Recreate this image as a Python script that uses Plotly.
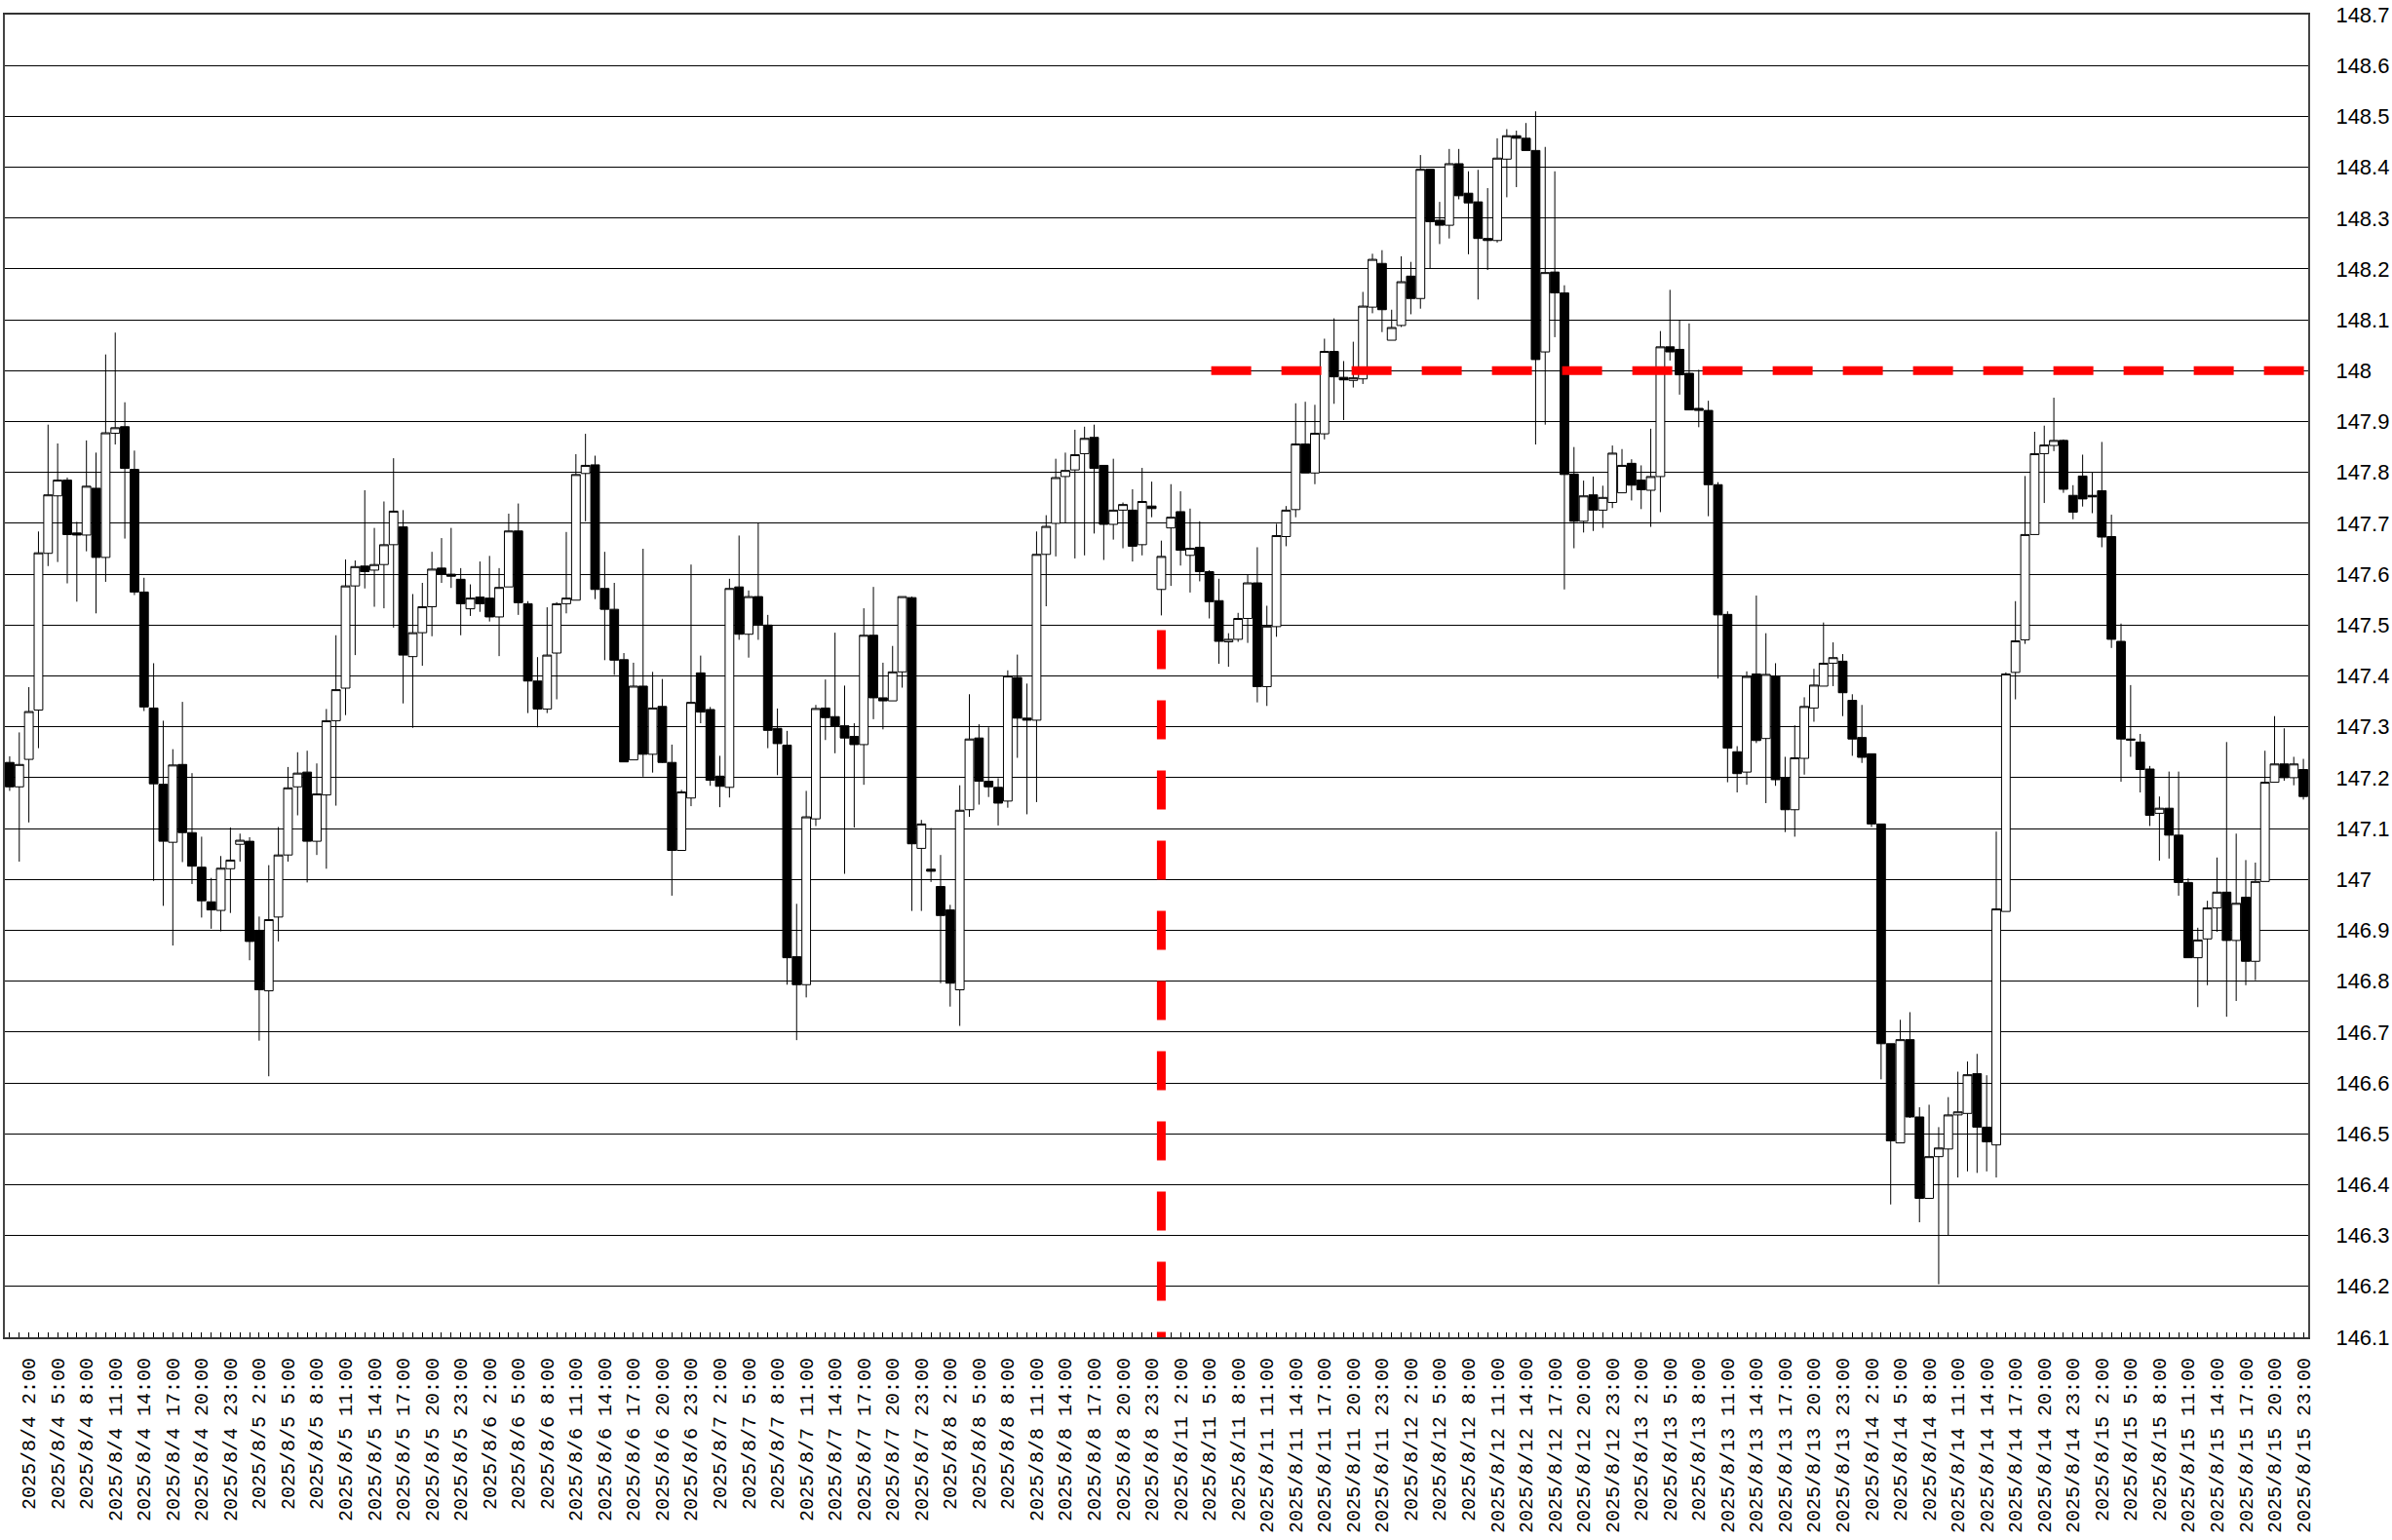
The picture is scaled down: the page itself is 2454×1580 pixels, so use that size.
import plotly.graph_objects as go

days = ["2025/8/4", "2025/8/5", "2025/8/6", "2025/8/7", "2025/8/8",
        "2025/8/11", "2025/8/12", "2025/8/13", "2025/8/14", "2025/8/15"]
hours = list(range(24))
times = [f"{d} {h}:00" for d in days for h in hours]

open_ = [
147.230,147.182,147.236,147.333,147.641,147.754,147.785,147.681,147.677,147.769,147.633,147.877,
147.890,147.806,147.565,147.337,147.187,147.073,147.226,147.092,147.024,146.956,146.939,147.021,
147.069,147.075,146.900,146.781,146.926,147.048,147.182,147.211,147.075,147.166,147.312,147.376,
147.577,147.616,147.608,147.619,147.658,147.693,147.438,147.485,147.536,147.612,147.600,147.590,
147.532,147.555,147.553,147.516,147.575,147.685,147.542,147.390,147.335,147.445,147.542,147.549,
147.798,147.815,147.572,147.531,147.432,147.235,147.380,147.246,147.340,147.230,147.057,147.160,
147.406,147.334,147.203,147.181,147.575,147.482,147.556,147.500,147.297,147.264,146.848,146.793,
147.119,147.337,147.320,147.302,147.281,147.265,147.480,147.357,147.351,147.408,147.554,147.061,
147.020,146.986,146.940,146.783,147.137,147.278,147.193,147.181,147.154,147.397,147.317,147.313,
147.639,147.700,147.792,147.805,147.837,147.869,147.814,147.698,147.726,147.726,147.658,147.734,
147.570,147.691,147.723,147.637,147.653,147.605,147.548,147.467,147.472,147.513,147.583,147.379,
147.497,147.674,147.727,147.856,147.799,147.876,148.038,147.987,147.981,147.984,148.125,148.211,
148.060,148.089,148.186,148.142,148.396,148.296,148.286,148.407,148.349,148.332,148.260,148.256,
148.416,148.462,148.457,148.433,148.037,148.194,148.153,147.797,147.704,147.756,147.726,147.741,
147.760,147.818,147.785,147.765,147.792,148.047,148.042,147.995,147.926,147.922,147.776,147.521,
147.251,147.211,147.404,147.277,147.400,147.200,147.137,147.238,147.337,147.380,147.425,147.429,
147.352,147.279,147.247,147.109,146.677,146.482,146.685,146.533,146.373,146.455,146.470,146.537,
146.540,146.618,146.513,146.478,146.937,147.407,147.471,147.678,147.837,147.853,147.863,147.755,
147.793,147.755,147.764,147.674,147.468,147.276,147.270,147.217,147.130,147.140,147.087,146.994,
146.846,146.883,146.944,146.975,146.880,146.965,146.839,146.996,147.191,147.227,147.200,147.216,
]
high = [
147.242,147.289,147.378,147.684,147.894,147.857,147.790,147.703,147.863,147.839,148.032,148.075,
147.938,147.843,147.593,147.425,147.312,147.256,147.349,147.209,147.084,147.003,147.046,147.102,
147.090,147.083,146.927,147.028,147.103,147.221,147.250,147.253,147.228,147.335,147.480,147.629,
147.627,147.765,147.691,147.743,147.828,147.726,147.561,147.583,147.644,147.671,147.691,147.612,
147.580,147.625,147.636,147.612,147.719,147.739,147.547,147.437,147.535,147.545,147.683,147.836,
147.876,147.833,147.644,147.583,147.445,147.426,147.650,147.408,147.394,147.265,147.176,147.619,
147.440,147.339,147.243,147.591,147.676,147.568,147.700,147.520,147.336,147.292,146.952,147.174,
147.343,147.393,147.485,147.381,147.307,147.533,147.575,147.426,147.459,147.556,147.556,147.117,
147.101,147.048,146.950,147.185,147.364,147.305,147.299,147.199,147.411,147.442,147.385,147.684,
147.716,147.827,147.839,147.884,147.890,147.894,147.814,147.827,147.741,147.767,147.809,147.782,
147.666,147.777,147.763,147.729,147.704,147.608,147.591,147.484,147.524,147.599,147.653,147.538,
147.699,147.734,147.936,147.939,147.933,148.063,148.103,148.019,148.057,148.155,148.230,148.237,
148.120,148.225,148.214,148.424,148.396,148.332,148.436,148.436,148.392,148.395,148.359,148.457,
148.475,148.472,148.487,148.510,148.440,148.392,148.168,147.850,147.784,147.792,147.774,147.853,
147.846,147.826,147.814,147.886,148.078,148.159,148.100,148.093,148.002,147.941,147.781,147.527,
147.262,147.409,147.558,147.484,147.425,147.241,147.303,147.358,147.414,147.505,147.466,147.443,
147.364,147.343,147.247,147.109,146.677,146.724,146.739,146.552,146.557,146.513,146.572,146.622,
146.642,146.657,146.615,147.094,147.407,147.547,147.793,147.880,147.892,147.947,147.865,147.775,
147.835,147.800,147.860,147.717,147.503,147.382,147.286,147.223,147.163,147.212,147.212,147.002,
146.905,146.958,147.043,147.270,147.090,147.038,147.033,147.253,147.321,147.297,147.241,147.237,
]
low = [
147.174,147.035,147.112,147.258,147.616,147.624,147.582,147.546,147.645,147.523,147.585,147.855,
147.670,147.559,147.331,146.997,146.948,146.870,147.034,146.991,146.925,146.903,146.898,146.934,
147.035,146.841,146.683,146.613,146.878,147.035,147.126,146.994,147.048,147.021,147.145,147.323,
147.441,147.572,147.536,147.533,147.495,147.346,147.298,147.420,147.478,147.583,147.573,147.480,
147.518,147.526,147.507,147.439,147.575,147.520,147.327,147.299,147.327,147.354,147.523,147.549,
147.704,147.551,147.431,147.402,147.231,147.235,147.202,147.210,147.229,146.968,147.057,147.144,
147.307,147.184,147.142,147.161,147.471,147.436,147.471,147.258,147.205,146.793,146.684,146.768,
147.105,147.274,147.248,147.011,147.102,147.186,147.315,147.295,147.351,147.377,146.938,146.938,
146.995,146.796,146.750,146.712,147.123,147.147,147.162,147.106,147.141,147.239,147.128,147.152,
147.537,147.635,147.700,147.631,147.637,147.680,147.628,147.668,147.651,147.625,147.637,147.712,
147.519,147.577,147.617,147.564,147.586,147.513,147.424,147.418,147.467,147.465,147.348,147.341,
147.477,147.655,147.712,147.799,147.777,147.865,147.935,147.903,147.967,147.974,148.113,148.076,
148.060,148.086,148.111,148.122,148.201,148.249,148.260,148.337,148.229,148.140,148.198,148.252,
148.341,148.361,148.433,147.855,147.894,148.066,147.570,147.651,147.682,147.685,147.691,147.730,
147.760,147.745,147.728,147.693,147.722,148.020,147.953,147.923,147.889,147.714,147.395,147.191,
147.171,147.186,147.268,147.150,147.184,147.093,147.084,147.206,147.310,147.380,147.380,147.321,
147.243,147.229,147.103,146.607,146.361,146.482,146.531,146.326,146.373,146.204,146.300,146.414,
146.426,146.423,146.426,146.414,146.937,147.354,147.463,147.678,147.740,147.842,147.760,147.708,
147.733,147.720,147.653,147.455,147.192,147.241,147.171,147.105,147.037,147.041,146.968,146.846,
146.749,146.792,146.897,146.730,146.761,146.792,146.802,146.996,147.191,147.194,147.185,147.157,
]
close = [
147.182,147.226,147.330,147.642,147.756,147.785,147.678,147.677,147.773,147.633,147.878,147.888,
147.808,147.565,147.339,147.188,147.075,147.225,147.092,147.026,146.958,146.940,147.022,147.038,
147.077,146.878,146.783,146.921,147.048,147.180,147.209,147.075,147.168,147.312,147.373,147.577,
147.615,147.605,147.619,147.658,147.724,147.441,147.485,147.536,147.610,147.600,147.596,147.542,
147.553,147.542,147.516,147.574,147.685,147.544,147.390,147.335,147.441,147.542,147.553,147.796,
147.814,147.570,147.531,147.431,147.231,147.380,147.246,147.337,147.230,147.057,147.172,147.348,
147.329,147.195,147.183,147.572,147.482,147.556,147.501,147.293,147.267,146.846,146.793,147.123,
147.336,147.318,147.302,147.278,147.265,147.480,147.357,147.351,147.408,147.556,147.070,147.109,
147.016,146.929,146.796,147.136,147.276,147.193,147.182,147.150,147.400,147.317,147.313,147.639,
147.694,147.790,147.804,147.835,147.867,147.808,147.698,147.726,147.737,147.655,147.743,147.729,
147.635,147.712,147.647,147.651,147.605,147.546,147.468,147.472,147.513,147.583,147.379,147.498,
147.676,147.726,147.856,147.799,147.877,148.038,147.988,147.982,147.986,148.127,148.219,148.120,
148.085,148.175,148.142,148.396,148.293,148.286,148.407,148.344,148.330,148.260,148.256,148.418,
148.462,148.457,148.433,148.022,148.193,148.153,147.796,147.704,147.754,147.726,147.751,147.838,
147.814,147.775,147.766,147.792,148.047,148.037,147.992,147.923,147.922,147.776,147.520,147.258,
147.208,147.399,147.273,147.403,147.196,147.137,147.239,147.340,147.382,147.425,147.436,147.367,
147.276,147.240,147.109,146.677,146.486,146.685,146.533,146.373,146.455,146.472,146.537,146.543,
146.616,146.513,146.484,146.942,147.404,147.469,147.678,147.837,147.854,147.863,147.767,147.722,
147.748,147.752,147.673,147.472,147.276,147.274,147.216,147.126,147.140,147.087,146.994,146.846,
146.881,146.944,146.975,146.880,146.953,146.839,146.996,147.191,147.227,147.200,147.227,147.163,
]

x_tick_text = [t if int(t.split(" ")[1].split(":")[0]) % 3 == 2 else "" for t in times]
y_tick_vals = [146.1, 146.2, 146.3, 146.4, 146.5, 146.6, 146.7, 146.8, 146.9, 147.0,
               147.1, 147.2, 147.3, 147.4, 147.5, 147.6, 147.7, 147.8, 147.9, 148.0,
               148.1, 148.2, 148.3, 148.4, 148.5, 148.6, 148.7]
y_tick_text = ["146.1", "146.2", "146.3", "146.4", "146.5", "146.6", "146.7", "146.8", "146.9", "147",
               "147.1", "147.2", "147.3", "147.4", "147.5", "147.6", "147.7", "147.8", "147.9", "148",
               "148.1", "148.2", "148.3", "148.4", "148.5", "148.6", "148.7"]

level_price = 148.0
marker_time = "2025/8/11 0:00"
level_start_time = "2025/8/11 5:00"

fig = go.Figure(go.Candlestick(
    x=times, open=open_, high=high, low=low, close=close,
    increasing=dict(line=dict(color="black", width=1), fillcolor="white"),
    decreasing=dict(line=dict(color="black", width=1), fillcolor="black"),
    whiskerwidth=0,
    showlegend=False,
))

mi = times.index(marker_time)
li = times.index(level_start_time)

fig.add_shape(type="line", xref="x", yref="y",
              x0=li + 0.2, x1=len(times) - 0.5, y0=level_price, y1=level_price,
              line=dict(color="#ff0000", width=9, dash="41px,31px"))
fig.add_shape(type="line", xref="x", yref="y",
              x0=mi, x1=mi, y0=147.49, y1=146.08,
              line=dict(color="#ff0000", width=9, dash="40px,32px"))

fig.update_layout(
    width=2454, height=1580,
    margin=dict(l=3, r=82, t=10, b=208),
    paper_bgcolor="white", plot_bgcolor="white",
    boxgap=0.1, boxgroupgap=0,
    xaxis=dict(
        type="category", rangeslider=dict(visible=False),
        tickmode="array", tickvals=times, ticktext=x_tick_text,
        tickangle=-90, ticks="inside", ticklen=5, tickcolor="black",
        tickfont=dict(family="Liberation Mono", size=20, color="black"),
        ticklabelstandoff=11,
        showgrid=False, showline=True, linecolor="#333333", linewidth=2, mirror=True,
        range=[-0.5, len(times) - 0.5],
    ),
    yaxis=dict(
        side="right", range=[146.0999, 148.7001],
        tickmode="array", tickvals=y_tick_vals, ticktext=y_tick_text,
        tickfont=dict(family="Liberation Sans, Arial", size=22, color="black"),
        ticks="", ticklabelstandoff=22, ticklabeloverflow="allow",
        showgrid=True, gridcolor="black", gridwidth=1,
        showline=True, linecolor="#444444", linewidth=2, mirror=True,
        zeroline=False,
    ),
)

fig.write_html("out.html",
               config={"displayModeBar": False},
               post_script="document.body.style.margin='0px';document.body.style.overflow='hidden';")
